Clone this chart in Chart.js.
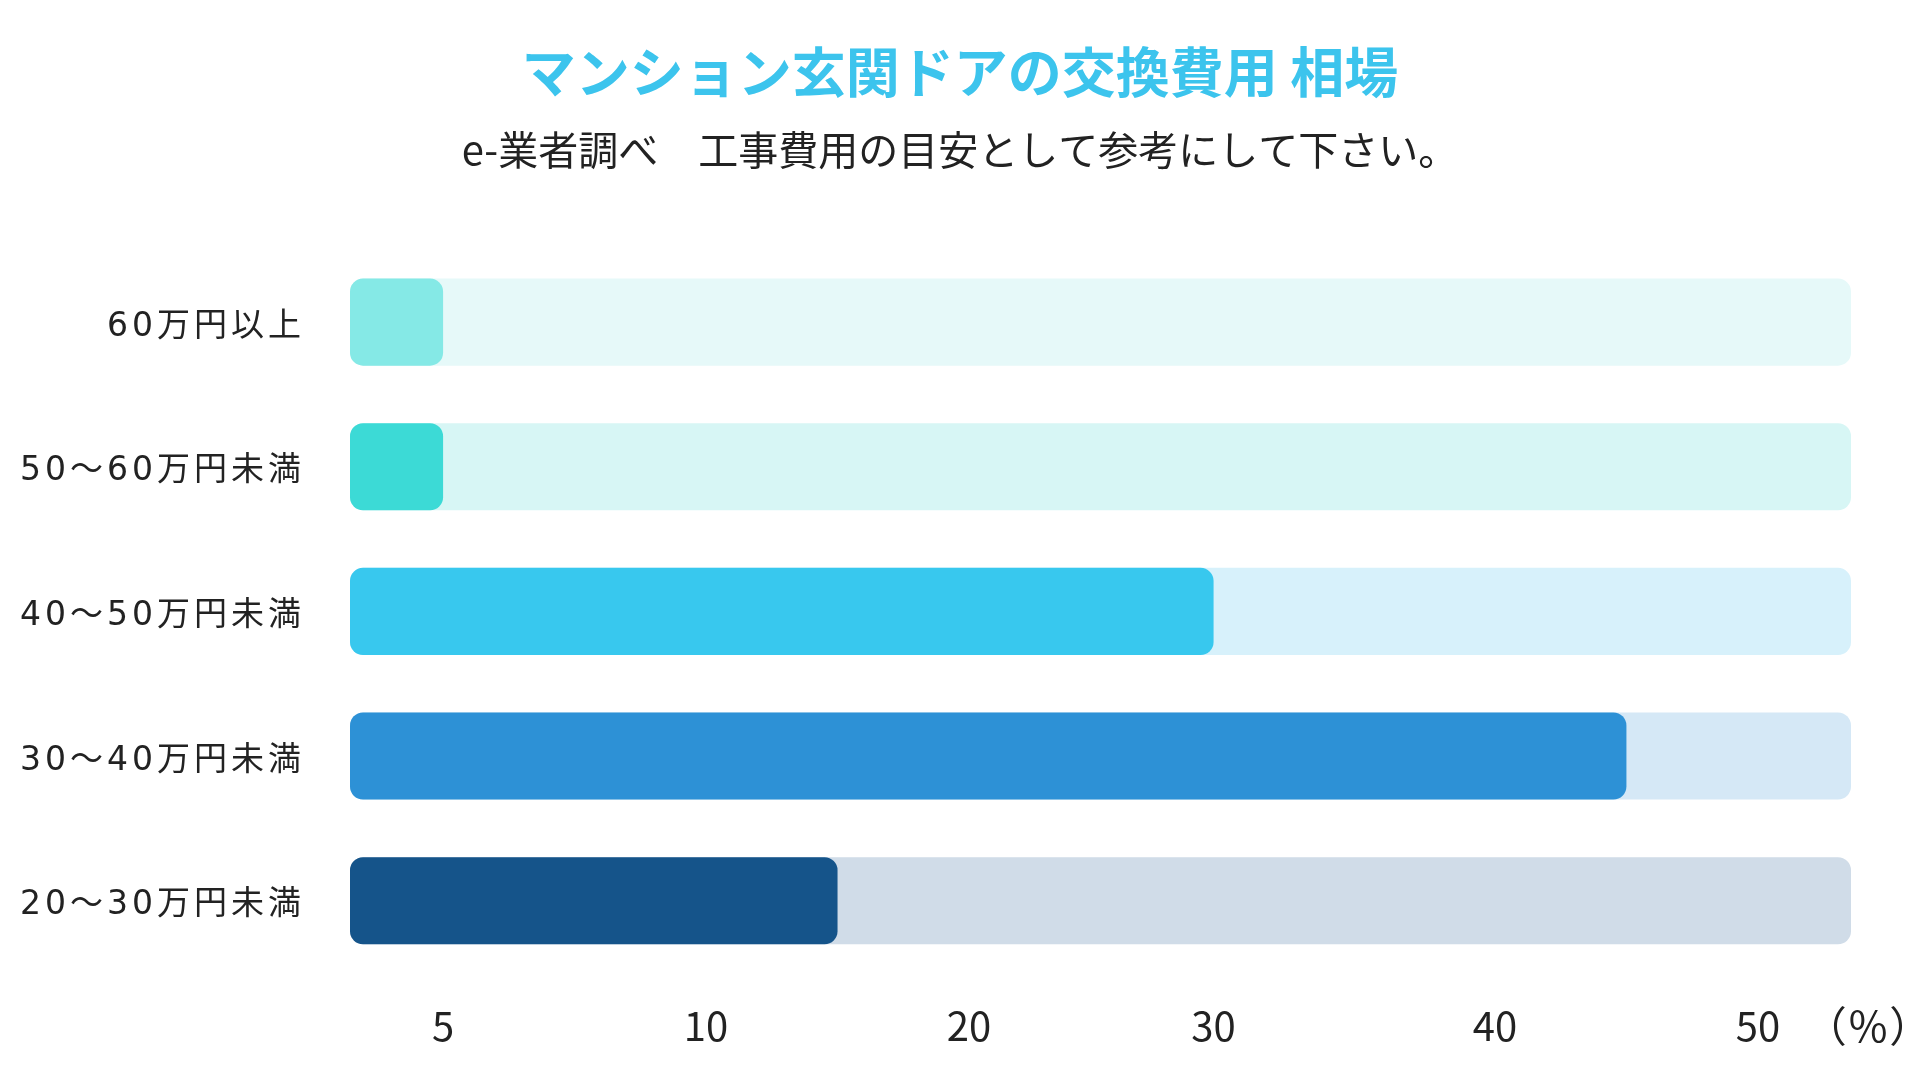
<!DOCTYPE html>
<html lang="ja">
<head>
<meta charset="utf-8">
<title>マンション玄関ドアの交換費用 相場</title>
<script src="https://cdn.jsdelivr.net/npm/chart.js@4/dist/chart.umd.min.js"></script>
<style>
  html, body { margin: 0; padding: 0; background: #ffffff; }
  #wrap { width: 1920px; height: 1080px; }
</style>
</head>
<body>
<div id="wrap"><canvas id="c" width="1920" height="1080"></canvas></div>
<script>
// ---- data ----
const CATEGORIES = ['60万円以上', '50～60万円未満', '40～50万円未満', '30～40万円未満', '20～30万円未満'];
const SHARE = [5, 5, 30, 45, 15];            // %
const TRACK = [100, 100, 100, 100, 100];      // full track (100%)
const TICK_VALUES = [5, 10, 20, 30, 40, 50];  // axis tick labels
const UNIT_LABEL = '（%）';
const TITLE = 'マンション玄関ドアの交換費用 相場';
const SUBTITLE = 'e-業者調べ　工事費用の目安として参考にして下さい。';

// ---- styles ----
const BAR_COLORS = ['#85e9e6', '#3cdad6', '#38c8ee', '#2d91d6', '#15548a'];
const TRACK_COLORS = ['#e6f9f9', '#d7f6f5', '#d7f1fb', '#d5e8f6', '#d0dce8'];
const FONT = "'Noto Sans CJK JP', 'Noto Sans', sans-serif";
const LABEL_FONT = "'DejaVu Sans', 'Noto Sans CJK JP', sans-serif";

// ---- custom axis: tick values placed at (nearly) evenly spaced slots ----
class SlotScale extends Chart.LinearScale {
  slKnots() { return this.options.knots; }
  slSlots() { return this.options.slots || this.slKnots().map((_, i) => i); }
  slToIdx(v) {
    const k = this.slKnots(), s = this.slSlots(), n = k.length;
    const seg = (i) => s[i] + (v - k[i]) * (s[i + 1] - s[i]) / (k[i + 1] - k[i]);
    if (v <= k[0]) return seg(0);
    if (v >= k[n - 1]) return seg(n - 2);
    for (let i = 0; i < n - 1; i++) if (v <= k[i + 1]) return seg(i);
    return s[n - 1];
  }
  slFromIdx(t) {
    const k = this.slKnots(), s = this.slSlots(), n = k.length;
    const seg = (i) => k[i] + (t - s[i]) * (k[i + 1] - k[i]) / (s[i + 1] - s[i]);
    if (t <= s[0]) return seg(0);
    if (t >= s[n - 1]) return seg(n - 2);
    for (let i = 0; i < n - 1; i++) if (t <= s[i + 1]) return seg(i);
    return k[n - 1];
  }
  slBounds() {
    const s = this.slSlots(), pad = this.options.slotPad;
    return [s[0] - pad, s[s.length - 1] + pad];
  }
  determineDataLimits() {
    const b = this.slBounds();
    this.min = this.slFromIdx(b[0]);
    this.max = this.slFromIdx(b[1]);
  }
  buildTicks() {
    return this.slKnots().map(v => ({ value: v }));
  }
  getPixelForValue(v) {
    const b = this.slBounds();
    const t = Math.max(b[0], Math.min(b[1], this.slToIdx(v)));
    return this.getPixelForDecimal((t - b[0]) / (b[1] - b[0]));
  }
  getValueForPixel(p) {
    const b = this.slBounds();
    return this.slFromIdx(b[0] + this.getDecimalForPixel(p) * (b[1] - b[0]));
  }
}
SlotScale.id = 'slot';

// category axis whose labels are drawn with letter spacing and without clipping
class SpacedCategoryScale extends Chart.CategoryScale {
  _computeLabelArea() { return undefined; }
  drawLabels(chartArea) {
    const ctx = this.ctx;
    const prev = ctx.letterSpacing;
    ctx.letterSpacing = this.options.letterSpacing || '0px';
    super.drawLabels(chartArea);
    ctx.letterSpacing = prev;
  }
}
SpacedCategoryScale.id = 'spacedCategory';
Chart.register(SlotScale, SpacedCategoryScale);

// unit label drawn to the right of the x tick labels
const unitPlugin = {
  id: 'unitLabel',
  afterDraw(chart) {
    const x = chart.scales.x;
    const ctx = chart.ctx;
    ctx.save();
    ctx.font = "42px " + FONT;
    ctx.letterSpacing = '2px';
    ctx.fillStyle = '#222222';
    ctx.textAlign = 'center';
    ctx.textBaseline = 'middle';
    ctx.fillText(UNIT_LABEL, x.right + 18, x.top + 29 + 24);
    ctx.restore();
  }
};

const ctx = document.getElementById('c').getContext('2d');
new Chart(ctx, {
  type: 'bar',
  data: {
    labels: CATEGORIES,
    datasets: [
      {
        label: '割合',
        data: SHARE,
        backgroundColor: BAR_COLORS,
        borderRadius: 13,
        borderSkipped: false,
        grouped: false,
        order: 1,
        categoryPercentage: 1,
        barPercentage: 0.602
      },
      {
        label: '全体',
        data: TRACK,
        backgroundColor: TRACK_COLORS,
        borderRadius: 13,
        borderSkipped: false,
        grouped: false,
        order: 2,
        categoryPercentage: 1,
        barPercentage: 0.602
      }
    ]
  },
  options: {
    indexAxis: 'y',
    responsive: false,
    devicePixelRatio: 1,
    animation: false,
    layout: { padding: { top: 0, right: 69, bottom: 1, left: 69 } },
    plugins: {
      legend: { display: false },
      tooltip: { enabled: false },
      title: {
        display: true,
        text: TITLE,
        color: '#3cc4ed',
        font: { family: FONT, size: 54, weight: 'bold', lineHeight: 1.2 },
        padding: { top: 40, bottom: 10 }
      },
      subtitle: {
        display: true,
        text: SUBTITLE,
        color: '#222222',
        font: { family: FONT, size: 40, weight: 'normal', lineHeight: 1.2 },
        padding: { top: 11, bottom: 76 }
      }
    },
    scales: {
      x: {
        type: 'slot',
        knots: TICK_VALUES,
        slots: [0, 1, 2, 2.93, 4, 5],
        slotPad: 0.354,
        position: 'bottom',
        grid: { display: false, drawTicks: false },
        border: { display: false },
        ticks: {
          padding: 29,
          color: '#222222',
          font: { family: FONT, size: 40 },
          maxRotation: 0,
          autoSkip: false,
          callback: v => String(v)
        }
      },
      y: {
        type: 'spacedCategory',
        letterSpacing: '4px',
        grid: { display: false, drawTicks: false },
        border: { display: false },
        afterFit: s => { s.width = 281; },
        ticks: {
          padding: 45,
          labelOffset: 5,
          color: '#222222',
          font: { family: LABEL_FONT, size: 33 }
        }
      }
    }
  },
  plugins: [unitPlugin]
});
</script>
</body>
</html>
